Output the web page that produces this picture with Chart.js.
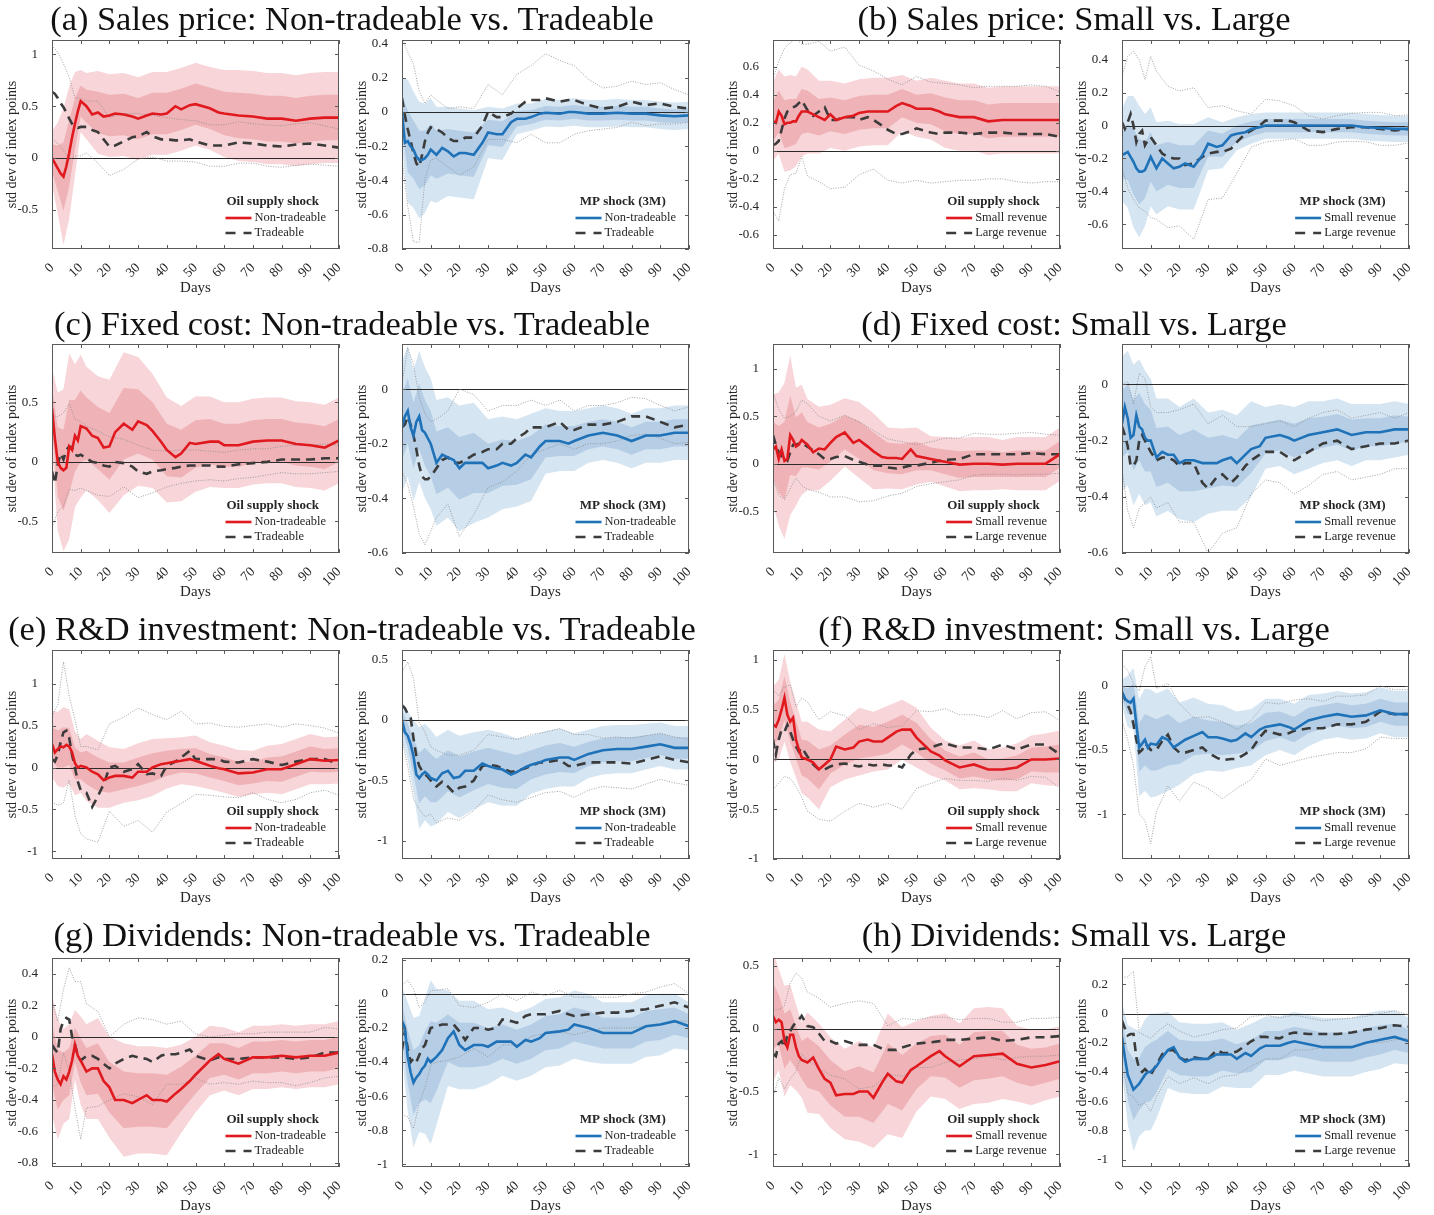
<!DOCTYPE html>
<html>
<head>
<meta charset="utf-8">
<script src="https://cdn.jsdelivr.net/npm/chart.js@4.4.1/dist/chart.umd.min.js"></script>
<style>
  body { margin: 0; background: #fff; width: 1434px; height: 1215px; position: relative; overflow: hidden; }
  .ttl { position: absolute; white-space: nowrap; color: #111; font-family: "Liberation Serif", serif; transform: translate(-50%, -50%); }
</style>
</head>
<body>
<script>
// horizon grid of the point estimates, and coarser grid of the band widths
const days = [0,1,2,3,4,5,6,7,8,9,10,12,14,16,18,20,22,25,28,30,33,35,38,40,43,45,48,50,55,58,60,65,70,75,80,85,90,95,100];
const bandDays = [0,2,4,6,8,10,12,16,20,25,30,35,40,45,50,55,60,65,70,75,80,85,90,95,100];

const titles = [
  "(a) Sales price: Non-tradeable vs. Tradeable",
  "(b) Sales price: Small vs. Large",
  "(c) Fixed cost: Non-tradeable vs. Tradeable",
  "(d) Fixed cost: Small vs. Large",
  "(e) R&D investment: Non-tradeable vs. Tradeable",
  "(f) R&D investment: Small vs. Large",
  "(g) Dividends: Non-tradeable vs. Tradeable",
  "(h) Dividends: Small vs. Large",
];
const tradeLabels = ["Non-tradeable", "Tradeable"];
const sizeLabels = ["Small revenue", "Large revenue"];
const shockNames = ["Oil supply shock", "MP shock (3M)"];

// main = solid line, se = inner band half width, dash = dashed line, dse = dotted half width
const aOilMain = [0,-0.05,-0.1,-0.15,-0.18,-0.08,0.05,0.2,0.33,0.45,0.55,0.5,0.42,0.44,0.4,0.41,0.43,0.42,0.4,0.38,0.41,0.43,0.42,0.43,0.5,0.47,0.51,0.52,0.48,0.44,0.43,0.41,0.4,0.38,0.38,0.36,0.38,0.39,0.39];
const aOilSe = [0.13,0.22,0.33,0.32,0.25,0.15,0.16,0.2,0.2,0.2,0.2,0.2,0.2,0.2,0.2,0.2,0.21,0.22,0.22,0.22,0.22,0.22,0.22,0.22,0.22];
const aOilDash = [0.64,0.62,0.58,0.53,0.49,0.44,0.38,0.33,0.3,0.29,0.3,0.3,0.27,0.25,0.18,0.11,0.12,0.16,0.2,0.21,0.25,0.21,0.18,0.18,0.17,0.17,0.18,0.16,0.12,0.12,0.12,0.15,0.14,0.12,0.11,0.13,0.14,0.12,0.1];
const aOilDse = [0.45,0.44,0.42,0.4,0.28,0.28,0.25,0.3,0.28,0.27,0.22,0.2,0.21,0.2,0.2,0.2,0.2,0.2,0.19,0.2,0.2,0.2,0.2,0.19,0.18];
const aMpMain = [0,-0.18,-0.17,-0.2,-0.22,-0.26,-0.28,-0.28,-0.27,-0.25,-0.22,-0.25,-0.21,-0.23,-0.26,-0.24,-0.24,-0.25,-0.18,-0.12,-0.13,-0.13,-0.06,-0.04,-0.04,-0.03,-0.01,-0.005,-0.01,0,0,-0.01,-0.01,-0.005,-0.01,-0.01,-0.02,-0.025,-0.02];
const aMpSe = [0.1,0.18,0.17,0.17,0.16,0.15,0.14,0.13,0.13,0.13,0.075,0.075,0.045,0.04,0.04,0.04,0.04,0.04,0.04,0.04,0.04,0.04,0.04,0.04,0.04];
const aMpDash = [0.08,-0.02,-0.1,-0.17,-0.24,-0.3,-0.32,-0.25,-0.17,-0.12,-0.09,-0.1,-0.12,-0.15,-0.17,-0.17,-0.15,-0.15,-0.08,0,-0.03,-0.03,-0.01,0.02,0.06,0.07,0.07,0.08,0.06,0.07,0.07,0.04,0.02,0.03,0.06,0.04,0.05,0.03,0.02];
const aMpDse = [0.35,0.45,0.52,0.44,0.22,0.19,0.17,0.17,0.2,0.17,0.16,0.13,0.2,0.2,0.26,0.24,0.2,0.15,0.12,0.12,0.12,0.12,0.12,0.1,0.08];

const bOilMain = [0.21,0.2,0.28,0.25,0.19,0.2,0.2,0.21,0.21,0.25,0.28,0.28,0.26,0.24,0.22,0.26,0.22,0.24,0.25,0.27,0.28,0.28,0.28,0.28,0.32,0.34,0.32,0.3,0.3,0.28,0.26,0.24,0.24,0.21,0.22,0.22,0.22,0.22,0.22];
const bOilSe = [0.14,0.15,0.17,0.17,0.16,0.16,0.15,0.13,0.12,0.12,0.12,0.12,0.12,0.1,0.1,0.11,0.12,0.12,0.12,0.12,0.12,0.12,0.12,0.12,0.12];
const bOilDash = [0.04,0.05,0.07,0.15,0.23,0.28,0.3,0.31,0.32,0.34,0.36,0.29,0.25,0.28,0.31,0.22,0.22,0.24,0.24,0.22,0.24,0.22,0.18,0.15,0.12,0.12,0.14,0.16,0.13,0.12,0.13,0.13,0.12,0.13,0.13,0.12,0.12,0.12,0.1];
const bOilDse = [0.47,0.57,0.5,0.47,0.48,0.4,0.47,0.5,0.49,0.5,0.39,0.35,0.36,0.35,0.37,0.36,0.35,0.34,0.33,0.33,0.33,0.34,0.35,0.34,0.32];
const bMpMain = [-0.18,-0.17,-0.16,-0.19,-0.22,-0.26,-0.28,-0.28,-0.27,-0.23,-0.19,-0.26,-0.2,-0.23,-0.26,-0.25,-0.23,-0.25,-0.18,-0.11,-0.13,-0.12,-0.06,-0.05,-0.04,-0.02,-0.01,0,0,0,0,0,0,0,0,-0.01,-0.015,-0.02,-0.02];
const bMpSe = [0.14,0.17,0.2,0.2,0.17,0.15,0.14,0.13,0.13,0.13,0.08,0.07,0.05,0.045,0.04,0.04,0.04,0.04,0.04,0.04,0.04,0.04,0.04,0.04,0.04];
const bMpDash = [0.02,-0.02,0.02,0.07,0,-0.1,-0.05,-0.03,-0.12,-0.09,-0.07,-0.12,-0.17,-0.19,-0.2,-0.2,-0.24,-0.23,-0.19,-0.17,-0.16,-0.16,-0.14,-0.1,-0.05,-0.03,0,0.03,0.03,0.03,0.02,-0.03,-0.04,-0.02,-0.01,-0.01,-0.02,-0.03,-0.02];
const bMpDse = [0.28,0.4,0.45,0.45,0.4,0.49,0.45,0.43,0.41,0.46,0.28,0.28,0.19,0.1,0.13,0.12,0.1,0.09,0.08,0.08,0.085,0.09,0.1,0.09,0.085];

const cOilMain = [0.45,0.2,0,-0.05,-0.07,-0.05,0.13,0.1,0.22,0.18,0.3,0.28,0.22,0.2,0.12,0.13,0.25,0.32,0.27,0.34,0.31,0.26,0.17,0.1,0.04,0.07,0.16,0.15,0.17,0.17,0.14,0.14,0.17,0.18,0.18,0.15,0.14,0.12,0.18];
const cOilSe = [0.17,0.29,0.34,0.39,0.3,0.3,0.26,0.26,0.28,0.3,0.27,0.24,0.22,0.2,0.2,0.19,0.18,0.18,0.18,0.18,0.18,0.18,0.18,0.18,0.18];
const cOilDash = [-0.08,-0.18,-0.02,0.07,0.02,0.1,0.13,0.12,0.06,0.05,0.06,0.03,0,-0.01,-0.03,-0.04,0,-0.01,-0.04,-0.08,-0.1,-0.08,-0.07,-0.06,-0.05,-0.04,-0.03,-0.03,-0.03,-0.04,-0.04,-0.02,-0.01,0,0.02,0.02,0.02,0.03,0.03];
const cOilDse = [0.47,0.4,0.39,0.36,0.3,0.28,0.27,0.27,0.25,0.2,0.22,0.18,0.15,0.14,0.13,0.12,0.12,0.12,0.12,0.11,0.11,0.12,0.12,0.12,0.11];
const cMpMain = [-0.14,-0.1,-0.08,-0.14,-0.17,-0.12,-0.1,-0.15,-0.16,-0.18,-0.2,-0.27,-0.24,-0.25,-0.26,-0.29,-0.27,-0.27,-0.27,-0.29,-0.28,-0.27,-0.28,-0.27,-0.24,-0.25,-0.21,-0.19,-0.19,-0.2,-0.19,-0.17,-0.16,-0.17,-0.19,-0.17,-0.17,-0.16,-0.16];
const cMpSe = [0.12,0.12,0.12,0.12,0.12,0.12,0.115,0.11,0.115,0.11,0.09,0.085,0.08,0.08,0.06,0.055,0.055,0.05,0.05,0.05,0.05,0.05,0.05,0.05,0.05];
const cMpDash = [-0.14,-0.13,-0.1,-0.13,-0.17,-0.22,-0.28,-0.32,-0.33,-0.33,-0.32,-0.29,-0.26,-0.25,-0.27,-0.27,-0.26,-0.24,-0.23,-0.22,-0.22,-0.2,-0.2,-0.18,-0.16,-0.14,-0.14,-0.14,-0.12,-0.15,-0.15,-0.13,-0.13,-0.12,-0.1,-0.1,-0.12,-0.14,-0.13];
const cMpDse = [0.16,0.25,0.26,0.25,0.24,0.2,0.18,0.17,0.27,0.22,0.14,0.14,0.12,0.1,0.08,0.08,0.07,0.07,0.07,0.07,0.07,0.065,0.06,0.06,0.065];

const dOilMain = [0.15,0.18,0.05,0.15,0.03,0.05,0.3,0.25,0.18,0.2,0.25,0.2,0.12,0.16,0.15,0.22,0.28,0.33,0.22,0.25,0.18,0.13,0.07,0.06,0.06,0.05,0.15,0.08,0.05,0.03,0.02,-0.01,0,0,-0.01,0,0,0,0.1];
const dOilSe = [0.29,0.35,0.41,0.42,0.31,0.29,0.24,0.22,0.2,0.18,0.2,0.2,0.16,0.16,0.15,0.12,0.13,0.14,0.14,0.14,0.13,0.14,0.14,0.14,0.14];
const dOilDash = [0.3,0.2,0.12,0.08,0.05,0.03,0.12,0.2,0.2,0.21,0.22,0.18,0.14,0.1,0.05,0.05,0.07,0.08,0.04,0.02,-0.01,-0.02,-0.02,-0.04,-0.05,-0.04,-0.02,-0.02,0.01,0.03,0.04,0.05,0.1,0.1,0.1,0.1,0.11,0.1,0.1];
const dOilDse = [0.45,0.45,0.43,0.38,0.35,0.45,0.45,0.4,0.4,0.43,0.42,0.37,0.3,0.27,0.22,0.22,0.23,0.22,0.22,0.21,0.21,0.22,0.22,0.21,0.2];
const dMpMain = [-0.14,-0.08,-0.12,-0.19,-0.18,-0.11,-0.15,-0.16,-0.19,-0.2,-0.2,-0.26,-0.24,-0.25,-0.25,-0.28,-0.27,-0.27,-0.28,-0.28,-0.28,-0.27,-0.26,-0.28,-0.25,-0.23,-0.22,-0.19,-0.18,-0.19,-0.2,-0.18,-0.17,-0.16,-0.18,-0.17,-0.17,-0.16,-0.16];
const dMpSe = [0.12,0.12,0.125,0.12,0.12,0.11,0.105,0.1,0.1,0.11,0.09,0.09,0.085,0.085,0.055,0.055,0.06,0.06,0.055,0.055,0.055,0.05,0.05,0.05,0.045];
const dMpDash = [-0.15,-0.18,-0.22,-0.29,-0.29,-0.27,-0.2,-0.18,-0.2,-0.22,-0.24,-0.27,-0.26,-0.26,-0.27,-0.29,-0.28,-0.28,-0.35,-0.37,-0.33,-0.32,-0.35,-0.33,-0.29,-0.27,-0.25,-0.24,-0.24,-0.26,-0.27,-0.24,-0.21,-0.2,-0.23,-0.22,-0.21,-0.21,-0.2];
const dMpDse = [0.15,0.23,0.22,0.24,0.22,0.16,0.17,0.16,0.2,0.21,0.23,0.21,0.18,0.12,0.1,0.11,0.12,0.12,0.11,0.11,0.11,0.11,0.11,0.09,0.1];

const eOilMain = [0.28,0.18,0.22,0.25,0.24,0.27,0.25,0.18,0.05,0,0.02,0,-0.05,-0.08,-0.15,-0.12,-0.1,-0.1,-0.12,-0.05,-0.05,0,0.04,0.05,0.07,0.08,0.1,0.08,0.02,-0.01,-0.02,-0.07,-0.06,-0.02,-0.02,0.04,0.1,0.08,0.09];
const eOilSe = [0.2,0.22,0.24,0.22,0.19,0.16,0.2,0.2,0.18,0.16,0.17,0.17,0.15,0.14,0.15,0.14,0.14,0.14,0.13,0.14,0.15,0.15,0.15,0.14,0.14];
const eOilDash = [0.1,0.07,0.15,0.3,0.42,0.44,0.35,0.15,0,-0.17,-0.27,-0.3,-0.47,-0.34,-0.2,0,0.02,-0.05,-0.02,0.04,-0.08,-0.07,-0.1,0.02,0.07,0.12,0.2,0.1,0.1,0.1,0.07,0.06,0.1,0.07,0.03,0.07,0.1,0.1,0.04];
const eOilDse = [0.51,0.6,0.84,0.5,0.57,0.52,0.55,0.55,0.52,0.65,0.67,0.7,0.55,0.55,0.42,0.43,0.42,0.42,0.4,0.45,0.45,0.45,0.4,0.37,0.37];
const eMpMain = [0,-0.1,-0.13,-0.2,-0.3,-0.45,-0.48,-0.45,-0.43,-0.45,-0.48,-0.5,-0.44,-0.42,-0.48,-0.47,-0.42,-0.42,-0.36,-0.38,-0.4,-0.41,-0.45,-0.43,-0.39,-0.37,-0.35,-0.33,-0.31,-0.31,-0.33,-0.28,-0.25,-0.24,-0.24,-0.22,-0.2,-0.23,-0.23];
const eMpSe = [0.08,0.1,0.15,0.21,0.2,0.2,0.18,0.17,0.17,0.16,0.15,0.15,0.14,0.12,0.12,0.12,0.11,0.1,0.1,0.1,0.1,0.095,0.09,0.09,0.09];
const eMpDash = [0.12,0.1,0.05,0.02,-0.15,-0.3,-0.38,-0.42,-0.45,-0.47,-0.5,-0.55,-0.51,-0.55,-0.6,-0.56,-0.55,-0.5,-0.38,-0.37,-0.38,-0.4,-0.43,-0.42,-0.4,-0.38,-0.35,-0.35,-0.33,-0.38,-0.38,-0.35,-0.35,-0.35,-0.36,-0.33,-0.3,-0.33,-0.35];
const eMpDse = [0.28,0.43,0.5,0.36,0.35,0.28,0.3,0.26,0.27,0.25,0.25,0.26,0.26,0.26,0.25,0.26,0.26,0.23,0.2,0.21,0.21,0.2,0.19,0.19,0.19];

const fOilMain = [0.35,0.33,0.4,0.5,0.62,0.45,0.38,0.42,0.2,0.1,0.02,0,-0.03,-0.1,-0.05,0,0.13,0.1,0.12,0.18,0.2,0.18,0.18,0.22,0.28,0.3,0.3,0.22,0.08,0.04,-0.01,-0.08,-0.05,-0.1,-0.1,-0.08,0,0,0.01];
const fOilSe = [0.19,0.2,0.22,0.2,0.19,0.18,0.19,0.2,0.14,0.15,0.17,0.15,0.16,0.15,0.15,0.12,0.1,0.11,0.12,0.1,0.11,0.12,0.12,0.13,0.14];
const fOilDash = [0.2,0.05,0.2,0.3,0.28,0.35,0.28,0.2,0.13,0.08,0.12,0.03,-0.05,-0.1,-0.1,-0.07,-0.05,-0.04,-0.06,-0.07,-0.05,-0.06,-0.05,-0.06,-0.06,-0.08,0.05,0.1,0.12,0.15,0.16,0.12,0.12,0.1,0.15,0.1,0.15,0.15,0.05];
const fOilDse = [0.5,0.44,0.45,0.47,0.4,0.5,0.55,0.5,0.55,0.48,0.37,0.42,0.38,0.42,0.39,0.36,0.35,0.33,0.33,0.32,0.34,0.31,0.32,0.33,0.34];
const fMpMain = [-0.05,-0.1,-0.12,-0.13,-0.1,-0.3,-0.48,-0.45,-0.42,-0.48,-0.45,-0.46,-0.4,-0.42,-0.48,-0.45,-0.42,-0.39,-0.36,-0.4,-0.4,-0.41,-0.43,-0.42,-0.37,-0.4,-0.34,-0.32,-0.3,-0.32,-0.34,-0.27,-0.24,-0.22,-0.24,-0.23,-0.19,-0.22,-0.22];
const fMpSe = [0.05,0.1,0.12,0.19,0.2,0.21,0.2,0.2,0.16,0.15,0.13,0.13,0.11,0.11,0.11,0.1,0.1,0.1,0.09,0.09,0.09,0.09,0.09,0.09,0.09];
const fMpDash = [-0.05,-0.1,-0.15,-0.2,-0.3,-0.42,-0.52,-0.5,-0.45,-0.47,-0.5,-0.5,-0.43,-0.38,-0.48,-0.52,-0.52,-0.5,-0.48,-0.52,-0.56,-0.58,-0.57,-0.57,-0.53,-0.5,-0.4,-0.35,-0.38,-0.37,-0.35,-0.33,-0.33,-0.3,-0.3,-0.28,-0.2,-0.22,-0.22];
const fMpDse = [0.22,0.27,0.32,0.48,0.6,0.73,0.48,0.4,0.38,0.25,0.28,0.3,0.23,0.23,0.22,0.24,0.24,0.23,0.21,0.22,0.22,0.21,0.2,0.19,0.19];

const gOilMain = [-0.11,-0.22,-0.27,-0.3,-0.25,-0.27,-0.22,-0.15,-0.05,-0.12,-0.15,-0.22,-0.2,-0.2,-0.28,-0.32,-0.4,-0.4,-0.42,-0.4,-0.37,-0.4,-0.4,-0.41,-0.36,-0.33,-0.28,-0.24,-0.15,-0.11,-0.14,-0.17,-0.13,-0.13,-0.12,-0.13,-0.12,-0.12,-0.1];
const gOilSe = [0.19,0.19,0.15,0.15,0.11,0.14,0.15,0.16,0.16,0.18,0.17,0.17,0.17,0.14,0.12,0.11,0.1,0.1,0.1,0.1,0.1,0.1,0.1,0.1,0.1];
const gOilDash = [-0.05,-0.08,-0.1,0.05,0.1,0.12,0.11,0,-0.05,-0.12,-0.15,-0.12,-0.12,-0.14,-0.17,-0.2,-0.17,-0.14,-0.12,-0.13,-0.14,-0.16,-0.12,-0.11,-0.11,-0.1,-0.08,-0.12,-0.15,-0.13,-0.14,-0.14,-0.13,-0.13,-0.13,-0.14,-0.13,-0.1,-0.1];
const gOilDse = [0.27,0.2,0.2,0.33,0.4,0.5,0.33,0.3,0.2,0.22,0.25,0.27,0.19,0.2,0.14,0.15,0.15,0.16,0.15,0.16,0.16,0.17,0.16,0.16,0.15];
const gMpMain = [-0.16,-0.2,-0.37,-0.46,-0.52,-0.49,-0.47,-0.44,-0.42,-0.38,-0.4,-0.37,-0.33,-0.26,-0.22,-0.3,-0.33,-0.3,-0.3,-0.31,-0.28,-0.28,-0.28,-0.31,-0.27,-0.28,-0.26,-0.23,-0.22,-0.21,-0.18,-0.2,-0.23,-0.23,-0.23,-0.19,-0.18,-0.16,-0.19];
const gMpSe = [0.1,0.16,0.19,0.17,0.2,0.24,0.2,0.14,0.13,0.13,0.11,0.1,0.1,0.1,0.1,0.1,0.1,0.1,0.09,0.09,0.09,0.09,0.09,0.08,0.07];
const gMpDash = [-0.33,-0.22,-0.32,-0.4,-0.38,-0.4,-0.36,-0.32,-0.3,-0.25,-0.2,-0.19,-0.18,-0.18,-0.18,-0.22,-0.27,-0.2,-0.2,-0.21,-0.2,-0.15,-0.16,-0.17,-0.13,-0.12,-0.12,-0.12,-0.1,-0.12,-0.13,-0.12,-0.11,-0.11,-0.1,-0.09,-0.07,-0.05,-0.08];
const gMpDse = [0.38,0.4,0.41,0.28,0.25,0.22,0.21,0.21,0.15,0.12,0.16,0.15,0.13,0.13,0.11,0.12,0.11,0.1,0.09,0.09,0.1,0.1,0.11,0.11,0.08];

const hOilMain = [0.1,0.05,0.07,0.05,-0.1,-0.15,-0.05,-0.05,-0.15,-0.22,-0.25,-0.27,-0.23,-0.32,-0.4,-0.43,-0.53,-0.52,-0.52,-0.5,-0.5,-0.55,-0.43,-0.36,-0.42,-0.43,-0.33,-0.3,-0.22,-0.18,-0.22,-0.3,-0.22,-0.21,-0.2,-0.28,-0.31,-0.29,-0.26];
const hOilSe = [0.26,0.2,0.22,0.2,0.17,0.15,0.2,0.18,0.18,0.18,0.2,0.2,0.24,0.22,0.18,0.16,0.17,0.17,0.19,0.19,0.18,0.15,0.15,0.14,0.14];
const hOilDash = [-0.2,-0.22,-0.12,-0.1,-0.15,-0.05,-0.02,0.02,0.05,0.07,0.1,0.02,0.01,-0.04,-0.1,-0.1,-0.12,-0.1,-0.12,-0.13,-0.13,-0.13,-0.16,-0.17,-0.17,-0.15,-0.13,-0.12,-0.11,-0.1,-0.09,-0.09,-0.08,-0.07,-0.1,-0.09,-0.07,-0.07,-0.06];
const hOilDse = [0.35,0.27,0.33,0.38,0.39,0.3,0.27,0.28,0.27,0.3,0.35,0.33,0.19,0.23,0.19,0.2,0.18,0.16,0.16,0.15,0.15,0.14,0.15,0.15,0.15];
const hMpMain = [-0.16,-0.3,-0.42,-0.47,-0.52,-0.5,-0.48,-0.45,-0.42,-0.4,-0.4,-0.36,-0.3,-0.25,-0.23,-0.3,-0.33,-0.31,-0.31,-0.31,-0.28,-0.28,-0.28,-0.31,-0.27,-0.29,-0.24,-0.22,-0.22,-0.2,-0.19,-0.21,-0.23,-0.23,-0.23,-0.2,-0.18,-0.16,-0.19];
const hMpSe = [0.12,0.17,0.21,0.18,0.19,0.2,0.18,0.13,0.12,0.12,0.12,0.11,0.1,0.11,0.1,0.1,0.1,0.1,0.1,0.1,0.1,0.1,0.1,0.09,0.08];
const hMpDash = [-0.05,-0.1,-0.15,-0.14,-0.14,-0.3,-0.38,-0.4,-0.38,-0.4,-0.42,-0.35,-0.28,-0.25,-0.25,-0.3,-0.32,-0.3,-0.31,-0.31,-0.25,-0.27,-0.27,-0.26,-0.22,-0.19,-0.16,-0.16,-0.17,-0.14,-0.13,-0.14,-0.14,-0.14,-0.13,-0.11,-0.1,-0.08,-0.09];
const hMpDse = [0.3,0.4,0.43,0.25,0.23,0.25,0.22,0.18,0.18,0.14,0.17,0.16,0.16,0.17,0.15,0.14,0.12,0.11,0.09,0.1,0.1,0.09,0.1,0.1,0.08];

// y tick values of each panel
const ticksHalf = [-0.5, 0, 0.5];
const ticksA1 = [-0.5, 0, 0.5, 1];
const ticksA2 = [-0.8, -0.6, -0.4, -0.2, 0, 0.2, 0.4];
const ticksB1 = [-0.6, -0.4, -0.2, 0, 0.2, 0.4, 0.6];
const ticksB2 = [-0.6, -0.4, -0.2, 0, 0.2, 0.4];
const ticksC2 = [-0.6, -0.4, -0.2, 0];
const ticksE1 = [-1, -0.5, 0, 0.5, 1];
const ticksE2 = [-1, -0.5, 0, 0.5];
const ticksF2 = [-1, -0.5, 0];
const ticksG1 = [-0.8, -0.6, -0.4, -0.2, 0, 0.2, 0.4];
const ticksG2 = [-1, -0.8, -0.6, -0.4, -0.2, 0, 0.2];

const panels = [
  { main: aOilMain, se: aOilSe, dash: aOilDash, dse: aOilDse, yMin: -0.88, yMax: 1.14, ticks: ticksA1, labels: tradeLabels },
  { main: aMpMain, se: aMpSe, dash: aMpDash, dse: aMpDse, yMin: -0.8, yMax: 0.42, ticks: ticksA2, labels: tradeLabels },
  { main: bOilMain, se: bOilSe, dash: bOilDash, dse: bOilDse, yMin: -0.7, yMax: 0.79, ticks: ticksB1, labels: sizeLabels },
  { main: bMpMain, se: bMpSe, dash: bMpDash, dse: bMpDse, yMin: -0.75, yMax: 0.52, ticks: ticksB2, labels: sizeLabels },
  { main: cOilMain, se: cOilSe, dash: cOilDash, dse: cOilDse, yMin: -0.765, yMax: 0.99, ticks: ticksHalf, labels: tradeLabels },
  { main: cMpMain, se: cMpSe, dash: cMpDash, dse: cMpDse, yMin: -0.6, yMax: 0.165, ticks: ticksC2, labels: tradeLabels },
  { main: dOilMain, se: dOilSe, dash: dOilDash, dse: dOilDse, yMin: -0.94, yMax: 1.26, ticks: ticksA1, labels: sizeLabels },
  { main: dMpMain, se: dMpSe, dash: dMpDash, dse: dMpDse, yMin: -0.6, yMax: 0.144, ticks: ticksC2, labels: sizeLabels },
  { main: eOilMain, se: eOilSe, dash: eOilDash, dse: eOilDse, yMin: -1.09, yMax: 1.4, ticks: ticksE1, labels: tradeLabels },
  { main: eMpMain, se: eMpSe, dash: eMpDash, dse: eMpDse, yMin: -1.15, yMax: 0.58, ticks: ticksE2, labels: tradeLabels },
  { main: fOilMain, se: fOilSe, dash: fOilDash, dse: fOilDse, yMin: -1, yMax: 1.1, ticks: ticksE1, labels: sizeLabels },
  { main: fMpMain, se: fMpSe, dash: fMpDash, dse: fMpDse, yMin: -1.35, yMax: 0.28, ticks: ticksF2, labels: sizeLabels },
  { main: gOilMain, se: gOilSe, dash: gOilDash, dse: gOilDse, yMin: -0.825, yMax: 0.5, ticks: ticksG1, labels: tradeLabels },
  { main: gMpMain, se: gMpSe, dash: gMpDash, dse: gMpDse, yMin: -1.015, yMax: 0.21, ticks: ticksG2, labels: tradeLabels },
  { main: hOilMain, se: hOilSe, dash: hOilDash, dse: hOilDse, yMin: -1.1, yMax: 0.56, ticks: ticksE2, labels: sizeLabels },
  { main: hMpMain, se: hMpSe, dash: hMpDash, dse: hMpDse, yMin: -1.05, yMax: 0.38, ticks: ticksG2, labels: sizeLabels },
];

// layout: plot-area corners of the 4x4 grid
const COLS = [52, 402, 773, 1122];
const ROWS = [40, 344, 650, 958];
const PW = 287, PH = 209;
const PAD_L = 52, PAD_T = 8, PAD_R = 8, PAD_B = 50;
const TITLE_X = [352, 1074];
const TITLE_Y = [18, 323, 628, 934];

const RED = "#e0191f", BLUE = "#1f72b8";
const BANDS = {
  red: ["#efb3b7", "#f7d5d8"],
  blue: ["#b5cee5", "#d6e5f2"],
};
const DASH = "#3b3b3b", DOT = "#8a8a8a", TXT = "#262626";
const SERIF = "'Liberation Serif', serif";

// box, inward ticks, zero line and the small legend
const frame = {
  id: "frame",
  beforeDatasetDraw(chart, args) {
    if (args.index !== 3) return;
    const { ctx, chartArea: a, scales: { y } } = chart;
    const py = Math.round(y.getPixelForValue(0)) + 0.5;
    ctx.save();
    ctx.beginPath();
    ctx.moveTo(a.left, py);
    ctx.lineTo(a.right, py);
    ctx.strokeStyle = "#2a2a2a";
    ctx.lineWidth = 1;
    ctx.stroke();
    ctx.restore();
  },
  afterDraw(chart, args, o) {
    const { ctx, chartArea: a, scales: { x, y } } = chart;
    ctx.save();
    ctx.strokeStyle = "#5a5a5a";
    ctx.lineWidth = 1;
    ctx.strokeRect(a.left + 0.5, a.top + 0.5, a.width - 1, a.height - 1);
    ctx.beginPath();
    x.ticks.forEach(t => {
      const px = Math.round(x.getPixelForValue(t.value)) + 0.5;
      ctx.moveTo(px, a.bottom); ctx.lineTo(px, a.bottom - 4);
      ctx.moveTo(px, a.top); ctx.lineTo(px, a.top + 4);
    });
    y.ticks.forEach(t => {
      const py = Math.round(y.getPixelForValue(t.value)) + 0.5;
      ctx.moveTo(a.left, py); ctx.lineTo(a.left + 4, py);
      ctx.moveTo(a.right, py); ctx.lineTo(a.right - 4, py);
    });
    ctx.stroke();

    ctx.font = "12.5px " + SERIF;
    const w = Math.max(ctx.measureText(o.labels[0]).width, ctx.measureText(o.labels[1]).width);
    const tx = a.right - 13 - w;
    const s0 = tx - 29, s1 = tx - 3;
    const y1 = a.bottom - 31, y2 = a.bottom - 16, yt = a.bottom - 47;
    ctx.fillStyle = TXT;
    ctx.textBaseline = "middle";
    ctx.textAlign = "left";
    ctx.fillText(o.labels[0], tx, y1);
    ctx.fillText(o.labels[1], tx, y2);
    ctx.lineWidth = 2.6;
    ctx.strokeStyle = o.color;
    ctx.beginPath(); ctx.moveTo(s0, y1); ctx.lineTo(s1, y1); ctx.stroke();
    ctx.strokeStyle = DASH;
    ctx.setLineDash([10, 8]);
    ctx.beginPath(); ctx.moveTo(s0, y2); ctx.lineTo(s1, y2); ctx.stroke();
    ctx.setLineDash([]);
    ctx.font = "bold 13px " + SERIF;
    ctx.textAlign = "center";
    ctx.fillText(o.title, (s0 + tx + w) / 2 - 3, yt);
    ctx.restore();
  },
};

// fixed axis sizes; the label overhang padding is dropped so the box sits on the grid
const fixX = s => { s.height = PAD_B; s.paddingLeft = s.paddingRight = s.paddingTop = s.paddingBottom = 0; };
const fixY = s => { s.width = PAD_L; s.paddingLeft = s.paddingRight = s.paddingTop = s.paddingBottom = 0; };

function makePanel(p, i) {
  const row = Math.floor(i / 4), col = i % 4;
  const isOil = col % 2 === 0;
  const color = isOil ? RED : BLUE;
  const bands = isOil ? BANDS.red : BANDS.blue;
  const W = PAD_L + PW + PAD_R, H = PAD_T + PH + PAD_B;
  const cv = document.createElement("canvas");
  cv.width = W; cv.height = H;
  cv.style.cssText = `position:absolute;left:${COLS[col] - PAD_L}px;top:${ROWS[row] - PAD_T}px;width:${W}px;height:${H}px`;
  document.body.appendChild(cv);

  const line = arr => days.map((d, k) => ({ x: d, y: arr[k] }));
  const band = (center, half, k) => bandDays.map((d, j) => ({ x: d, y: center[days.indexOf(d)] + k * half[j] }));

  const chart = new Chart(cv, {
    type: "line",
    data: {
      datasets: [
        { data: line(p.main), borderColor: color, borderWidth: 2.6, order: 0 },
        { data: line(p.dash), borderColor: DASH, borderWidth: 2.6, borderDash: [9, 6], order: 1 },
        { data: band(p.dash, p.dse, 1), borderColor: DOT, borderWidth: 0.8, borderDash: [1, 1.5], order: 2 },
        { data: band(p.dash, p.dse, -1), borderColor: DOT, borderWidth: 0.8, borderDash: [1, 1.5], order: 2 },
        { data: band(p.main, p.se, 1), borderWidth: 0, backgroundColor: bands[0], fill: "+1", order: 3 },
        { data: band(p.main, p.se, -1), borderWidth: 0, order: 3 },
        { data: band(p.main, p.se, 2), borderWidth: 0, backgroundColor: bands[1], fill: "+1", order: 4 },
        { data: band(p.main, p.se, -2), borderWidth: 0, order: 4 },
      ],
    },
    options: {
      responsive: false,
      animation: false,
      events: [],
      elements: { point: { radius: 0 }, line: { tension: 0, fill: false } },
      layout: { padding: { left: 0, top: PAD_T, right: PAD_R, bottom: 0 }, autoPadding: false },
      plugins: {
        legend: { display: false },
        tooltip: { enabled: false },
        frame: { labels: p.labels, title: shockNames[isOil ? 0 : 1], color: color },
      },
      scales: {
        x: {
          type: "linear", min: 0, max: 100,
          grid: { display: false }, border: { display: false },
          ticks: { stepSize: 10, minRotation: 45, maxRotation: 45, padding: 3, color: TXT, font: { family: SERIF, size: 13.5 }, callback: v => String(v) },
          title: { display: true, text: "Days", color: TXT, font: { family: SERIF, size: 15 }, padding: { top: 0, bottom: 2 } },
          afterFit: fixX,
        },
        y: {
          min: p.yMin, max: p.yMax,
          grid: { display: false }, border: { display: false },
          afterBuildTicks: s => { s.ticks = p.ticks.map(v => ({ value: v })); },
          ticks: { padding: 6, color: TXT, font: { family: SERIF, size: 13 }, callback: v => String(v) },
          title: { display: true, text: "std dev of index points", color: TXT, font: { family: SERIF, size: 14 }, padding: { top: 4, bottom: 0 } },
          afterFit: fixY,
        },
      },
    },
    plugins: [frame],
  });

  // nudge the layout padding so the plot box lands exactly on the grid
  const a = chart.chartArea;
  const pad = chart.options.layout.padding;
  const dt = PAD_T - a.top, dl = PAD_L - a.left, dr = a.right - (PAD_L + PW), db = a.bottom - (PAD_T + PH);
  if (dt || dl || dr || db) {
    pad.top += dt; pad.left += dl; pad.right += dr; pad.bottom += db;
    chart.update();
  }
}

panels.forEach(makePanel);

// panel titles, sized so that title (a) spans the same width as in the figure
const meas = document.createElement("canvas").getContext("2d");
meas.font = "100px 'Liberation Serif'";
const titleSize = 100 * 605 / meas.measureText(titles[0]).width;
titles.forEach((t, k) => {
  const d = document.createElement("div");
  d.className = "ttl";
  d.textContent = t;
  d.style.left = TITLE_X[k % 2] + "px";
  d.style.top = TITLE_Y[Math.floor(k / 2)] + "px";
  d.style.fontSize = titleSize.toFixed(1) + "px";
  document.body.appendChild(d);
});
</script>
</body>
</html>
